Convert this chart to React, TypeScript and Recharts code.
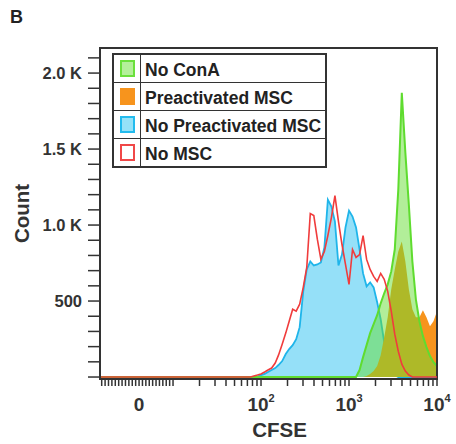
import React from "react";
import {
  ComposedChart,
  Area,
  Line,
  XAxis,
  YAxis,
  Legend,
  ReferenceArea,
} from "recharts";

const FONT = '"Liberation Sans", Arial, Helvetica, sans-serif';

// CFSE channel values of the histogram bins
const cfse = [
  -11.5, 10, 40, 69, 76, 83, 91, 100, 110, 120, 132, 145, 158, 174, 191, 209, 229,
  251, 275, 302, 331, 363, 398, 437, 479, 525, 575, 631, 692, 759, 832, 912, 1000,
  1096, 1202, 1318, 1445, 1585, 1738, 1905, 2089, 2291, 2512, 2754, 3020, 3311,
  3631, 3981, 4365, 4786, 5248, 5754, 6310, 6918, 7586, 8318, 9120, 10000,
];

// counts per bin
const noMSC = [
  0, 0, 0, 0, 0, 7, 13, 20, 33, 46, 59, 92, 144, 216, 289, 367, 446, 433, 479, 590,
  721, 1075, 1062, 905, 774, 826, 931, 1049, 1193, 1023, 872, 741, 610, 839, 787,
  806, 931, 774, 708, 662, 629, 682, 643, 564, 433, 282, 170, 85, 39, 13, 0, 0, 0,
  0, 0, 0, 0, 0,
];
const noPreMSC = [
  0, 0, 0, 0, 0, 0, 3, 13, 20, 33, 46, 59, 79, 105, 151, 184, 210, 249, 328, 564,
  708, 761, 734, 741, 754, 852, 1167, 1121, 1023, 734, 806, 984, 1095, 1056, 984,
  839, 682, 597, 623, 590, 492, 380, 229, 131, 46, 13, 0, 0, 0, 0, 0, 0, 0, 0, 0,
  0, 0, 0,
];
const preMSC = [
  0, 0, 0, 0, 0, 0, 0, 0, 0, 0, 0, 0, 0, 0, 0, 0, 0, 0, 0, 0, 0, 0, 0, 0, 0, 0, 0,
  0, 0, 0, 0, 0, 0, 0, 0, 0, 0, 7, 20, 39, 72, 144, 262, 393, 577, 708, 826, 892,
  761, 577, 446, 393, 393, 439, 393, 334, 367, 433,
];
const noConA = [
  0, 0, 0, 0, 0, 0, 0, 0, 0, 0, 0, 0, 0, 0, 0, 0, 0, 0, 0, 0, 0, 0, 0, 0, 0, 0, 0,
  0, 0, 0, 0, 0, 0, 0, 0, 46, 131, 210, 289, 348, 407, 485, 551, 610, 695, 839,
  1233, 1870, 1480, 1134, 761, 511, 367, 269, 197, 138, 98, 72,
];

const yTicks = [
  0, 100, 200, 300, 400, 500, 600, 700, 800, 900, 1000, 1100, 1200, 1300, 1400,
  1500, 1600, 1700, 1800, 1900, 2000, 2100,
];
const xTickValues = [
  -11, -10, -9, -8, -7, -6, -5, -4, -3, -2, -1, 0, 1, 2, 3, 4, 5, 6, 7, 8, 9, 10,
  20, 30, 40, 50, 60, 70, 80, 90, 100, 200, 300, 400, 500, 600, 700, 800, 900,
  1000, 2000, 3000, 4000, 5000, 6000, 7000, 8000, 9000, 10000,
];
const xMajor = [
  { v: 0, base: "0", exp: "" },
  { v: 100, base: "10", exp: "2" },
  { v: 1000, base: "10", exp: "3" },
  { v: 10000, base: "10", exp: "4" },
];

const legendItems = [
  { name: "No ConA", fill: "#b4f09a", stroke: "#6be03c" },
  { name: "Preactivated MSC", fill: "#f7941d", stroke: "#f7941d" },
  { name: "No Preactivated MSC", fill: "#95e2f8", stroke: "#22bbee" },
  { name: "No MSC", fill: "#ffffff", stroke: "#f04848" },
];

// logicle-like display: linear near zero, log above 10
const T0 = 0.614;
const toT = (v: number) => (v >= 10 ? Math.log10(v) : T0 + (v / 10) * (1 - T0));
const X_MIN = toT(-11.5);
const Y_MIN = -13;
const Y_MAX = 2165;

const rows = cfse.map((v, i) => ({
  t: toT(v),
  noMSC: noMSC[i],
  noPreMSC: noPreMSC[i],
  preMSC: preMSC[i],
  noConA: noConA[i],
}));

const XTick = (props: any) => {
  const { x, y, payload } = props;
  const m = xMajor.find((d) => Math.abs(toT(d.v) - payload.value) < 1e-6);
  if (!m) return null;
  return (
    <text
      x={x}
      y={y + 23}
      textAnchor="middle"
      fill="#333"
      fontSize={19}
      fontWeight="bold"
      fontFamily={FONT}
    >
      <tspan>{m.base}</tspan>
      {m.exp && (
        <tspan dy={-9} fontSize={11}>
          {m.exp}
        </tspan>
      )}
    </text>
  );
};

const yFormat = (v: number) => {
  if (v === 0 || v % 500 !== 0) return "";
  return v < 1000 ? String(v) : (v / 1000).toFixed(1) + " K";
};

const XLabel = (props: any) => {
  const { x, width } = props.viewBox;
  return (
    <text
      x={x + width / 2 + 11}
      y={437}
      textAnchor="middle"
      fill="#333"
      fontSize={20.5}
      fontWeight="bold"
      fontFamily={FONT}
    >
      CFSE
    </text>
  );
};

const YLabel = (props: any) => {
  const { y, height } = props.viewBox;
  const cx = 21;
  const cy = y + height / 2;
  return (
    <text
      x={cx}
      y={cy}
      transform={`rotate(-90 ${cx} ${cy})`}
      textAnchor="middle"
      dominantBaseline="central"
      fill="#333"
      fontSize={20.5}
      fontWeight="bold"
      fontFamily={FONT}
    >
      Count
    </text>
  );
};

const LegendBox = () => (
  <div
    style={{
      width: 215,
      border: "2px solid #333",
      boxSizing: "border-box",
      background: "#fff",
      fontFamily: FONT,
    }}
  >
    {legendItems.map((s, i) => (
      <div
        key={s.name}
        style={{
          display: "flex",
          height: 27,
          borderTop: i ? "1.5px solid #333" : "none",
        }}
      >
        <div
          style={{
            width: 26,
            borderRight: "1.5px solid #333",
            display: "flex",
            alignItems: "center",
            justifyContent: "center",
          }}
        >
          <div
            style={{
              width: 15,
              height: 17,
              boxSizing: "border-box",
              border: `2px solid ${s.stroke}`,
              background: s.fill,
            }}
          />
        </div>
        <div
          style={{
            paddingLeft: 4,
            paddingTop: 2,
            fontSize: 17.5,
            fontWeight: "bold",
            color: "#222",
            lineHeight: "27px",
            whiteSpace: "nowrap",
          }}
        >
          {s.name}
        </div>
      </div>
    ))}
  </div>
);

export default function App() {
  return (
    <div
      style={{
        position: "absolute",
        left: 0,
        top: 0,
        width: 456,
        height: 444,
        background: "#fff",
        fontFamily: FONT,
      }}
    >
      <div
        style={{
          position: "absolute",
          left: 10,
          top: 7,
          fontSize: 18,
          fontWeight: "bold",
          color: "#222",
        }}
      >
        B
      </div>
      <ComposedChart
        width={456}
        height={444}
        data={rows}
        margin={{ top: 48, right: 19, bottom: 0, left: 0 }}
      >
        <XAxis
          type="number"
          dataKey="t"
          domain={[X_MIN, 4]}
          allowDataOverflow
          ticks={xTickValues.map(toT)}
          interval={0}
          height={65}
          tickSize={7}
          tick={<XTick />}
          tickLine={{ stroke: "#333", strokeWidth: 1.5 }}
          axisLine={{ stroke: "#333", strokeWidth: 2 }}
          label={<XLabel />}
        />
        <YAxis
          type="number"
          domain={[Y_MIN, Y_MAX]}
          allowDataOverflow
          ticks={yTicks}
          interval={0}
          width={100}
          tickSize={12}
          tickMargin={6}
          tickFormatter={yFormat}
          tick={{ fill: "#333", fontSize: 16.5, fontWeight: "bold", fontFamily: FONT }}
          tickLine={{ stroke: "#333", strokeWidth: 1.5 }}
          axisLine={{ stroke: "#333", strokeWidth: 2 }}
          label={<YLabel />}
        />
        <Line
          dataKey="noMSC"
          type="linear"
          stroke="#f03c3c"
          strokeWidth={1.6}
          dot={false}
          isAnimationActive={false}
        />
        <Area
          dataKey="noPreMSC"
          type="linear"
          baseValue={0}
          stroke="#1fb5ea"
          strokeWidth={1.8}
          fill="#5ccff5"
          fillOpacity={0.65}
          isAnimationActive={false}
        />
        <Area
          dataKey="preMSC"
          type="linear"
          baseValue={0}
          stroke="none"
          fill="#f7941d"
          fillOpacity={1}
          isAnimationActive={false}
        />
        <Area
          dataKey="noConA"
          type="linear"
          baseValue={0}
          stroke="#5fdc2f"
          strokeWidth={2}
          fill="#66dd33"
          fillOpacity={0.5}
          isAnimationActive={false}
        />
        <ReferenceArea
          x1={X_MIN}
          x2={4}
          y1={Y_MIN}
          y2={Y_MAX}
          fill="none"
          fillOpacity={0}
          stroke="#333"
          strokeWidth={2}
          ifOverflow="visible"
        />
        <Legend
          layout="horizontal"
          verticalAlign="middle"
          align="center"
          wrapperStyle={{ left: 112, top: 53, width: 215 }}
          content={<LegendBox />}
        />
      </ComposedChart>
    </div>
  );
}
